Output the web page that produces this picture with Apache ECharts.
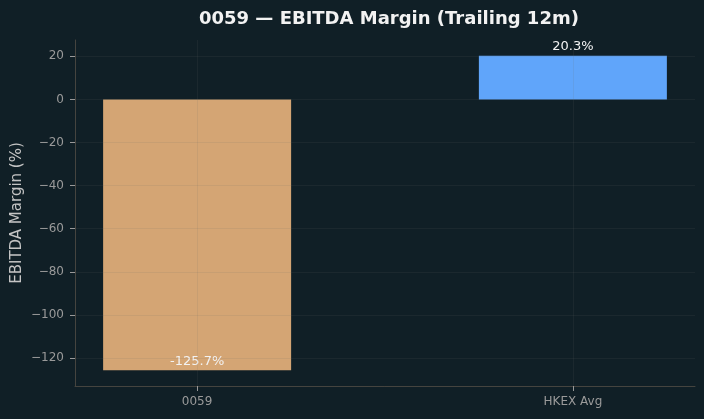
<!DOCTYPE html>
<html>
<head>
<meta charset="utf-8">
<script src="https://cdn.jsdelivr.net/npm/echarts@6/dist/echarts.min.js"></script>
<style>
  html, body { margin: 0; padding: 0; background: #101f26; }
  #main { width: 704px; height: 419px; }
</style>
</head>
<body>
<div id="main"></div>
<script>
// chart values
var categories = ['0059', 'HKEX Avg'];
var margins = [-125.7, 20.3];
var barColors = ['#d4a574', '#60a5fa'];
var yTicks = [20, 0, -20, -40, -60, -80, -100, -120];
var xTicks = [0, 1];

var chart = echarts.init(document.getElementById('main'), null, { renderer: 'canvas' });

var gridColor = 'rgba(110,110,110,0.12)';
var font = 'DejaVu Sans';

function minus(v) {
  return String(v).replace('-', '\u2212');
}

var barData = [];
for (var i = 0; i < categories.length; i++) {
  var neg = margins[i] < 0;
  barData.push({
    value: [i, margins[i]],
    itemStyle: { color: barColors[i] },
    label: {
      show: true,
      position: neg ? 'insideBottom' : 'top',
      distance: neg ? 2 : 3,
      formatter: margins[i].toFixed(1) + '%',
      color: '#f2f2f2',
      fontSize: 13,
      fontFamily: font
    }
  });
}

var gridLines = [];
yTicks.forEach(function (v) { gridLines.push({ yAxis: v }); });
xTicks.forEach(function (v) { gridLines.push({ xAxis: v }); });

var option = {
  backgroundColor: '#101f26',
  animation: false,
  title: {
    text: '0059 \u2014 EBITDA Margin (Trailing 12m)',
    left: 194,
    top: 5,
    textStyle: { color: '#f2f2f2', fontSize: 18, fontWeight: 'bold', fontFamily: font }
  },
  grid: { left: 75, right: 9, top: 40, bottom: 33, containLabel: false, outerBoundsMode: 'none' },
  xAxis: {
    type: 'value',
    min: -0.325,
    max: 1.325,
    axisLine: { show: true, onZero: false, lineStyle: { color: '#45443f' } },
    axisTick: { show: true, customValues: xTicks, length: 5, lineStyle: { color: '#999999' } },
    axisLabel: {
      customValues: xTicks,
      color: '#9a9a9a',
      fontSize: 12,
      fontFamily: font,
      margin: 10,
      formatter: function (v) { return categories[Math.round(v)] || ''; }
    },
    splitLine: { show: false }
  },
  yAxis: {
    type: 'value',
    min: -133.0,
    max: 27.6,
    name: 'EBITDA Margin (%)',
    nameLocation: 'middle',
    nameGap: 50,
    nameMoveOverlap: false,
    nameTextStyle: { color: '#c4c4c4', fontSize: 15, fontFamily: font },
    axisLine: { show: true, onZero: false, lineStyle: { color: '#45443f' } },
    axisTick: { show: true, customValues: yTicks, length: 5, lineStyle: { color: '#999999' } },
    axisLabel: {
      customValues: yTicks,
      color: '#9a9a9a',
      fontSize: 12,
      fontFamily: font,
      margin: 11,
      formatter: function (v) { return minus(v); }
    },
    splitLine: { show: false }
  },
  series: [{
    type: 'bar',
    barWidth: 188,
    data: barData,
    markLine: {
      silent: true,
      symbol: 'none',
      z: 5,
      label: { show: false },
      lineStyle: { color: gridColor, width: 1, type: 'solid' },
      data: gridLines
    }
  }]
};

chart.setOption(option);
</script>
</body>
</html>
